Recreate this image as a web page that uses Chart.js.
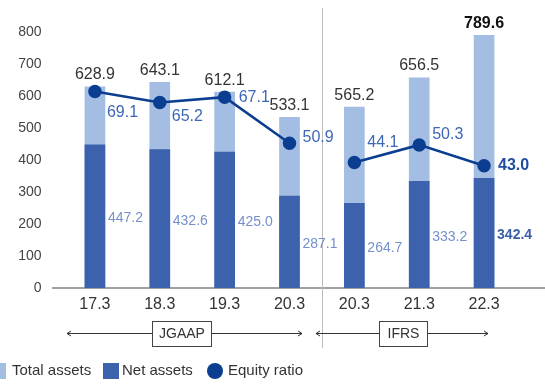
<!DOCTYPE html>
<html>
<head>
<meta charset="utf-8">
<script src="https://cdn.jsdelivr.net/npm/chart.js@4"></script>
<style>
  html, body { margin: 0; padding: 0; background: #fff; }
  #wrap { width: 545px; height: 385px; }
</style>
</head>
<body>
<div id="wrap"><canvas id="assetsChart" width="545" height="385"></canvas></div>
<script>
// Fiscal periods (JGAAP first, then IFRS restated from 20.3)
const periods = ['17.3', '18.3', '19.3', '20.3', '20.3', '21.3', '22.3'];
const totalAssets = [628.9, 643.1, 612.1, 533.1, 565.2, 656.5, 789.6];
const netAssets = [447.2, 432.6, 425.0, 287.1, 264.7, 333.2, 342.4];
const equityRatio = [69.1, 65.2, 67.1, 50.9, 44.1, 50.3, 43.0];
const standardNames = ['JGAAP', 'IFRS'];
const legendNames = ['Total assets', 'Net assets', 'Equity ratio'];

const FONT = '"Liberation Sans", Arial, Helvetica, sans-serif';
const LIGHT = '#a4bde2';
const MID = '#3c62ae';
const DARK = '#0b3d91';
const lastIdx = periods.length - 1;

// label offsets for the equity ratio values, relative to each point
const ratioOffsets = [[12, 21], [12, 14], [14, 0], [13, -6], [13, -20], [13, -10], [14, 0]];
// arrow extents and label box extents for each accounting standard
const arrowSpans = [[67, 302], [316, 488]];
const boxSpans = [[152, 211], [379, 427]];

const extras = {
    id: 'extras',
    beforeDatasetsDraw(chart) {
        const ctx = chart.ctx;
        const y0 = chart.scales.y.getPixelForValue(0);
        ctx.save();
        // baseline
        ctx.strokeStyle = '#808080';
        ctx.lineWidth = 1.3;
        ctx.beginPath();
        ctx.moveTo(52, y0);
        ctx.lineTo(545, y0);
        ctx.stroke();
        // divider between JGAAP and IFRS
        const x = chart.scales.x;
        const sepX = Math.round((x.getPixelForValue(3) + x.getPixelForValue(4)) / 2) + 0.5;
        ctx.strokeStyle = '#bdbdbd';
        ctx.lineWidth = 1;
        ctx.beginPath();
        ctx.moveTo(sepX, 8);
        ctx.lineTo(sepX, 348);
        ctx.stroke();
        ctx.restore();
    },
    afterDatasetsDraw(chart) {
        const ctx = chart.ctx;
        const xs = chart.scales.x, ys = chart.scales.y, y2 = chart.scales.y2;
        ctx.save();
        ctx.textBaseline = 'middle';
        periods.forEach((p, i) => {
            const cx = xs.getPixelForValue(i);
            const bold = i === lastIdx ? 'bold ' : '';
            // total assets, above bar
            ctx.textAlign = 'center';
            ctx.font = bold + '16px ' + FONT;
            ctx.fillStyle = i === lastIdx ? '#111' : '#333';
            ctx.fillText(totalAssets[i].toFixed(1), cx, ys.getPixelForValue(totalAssets[i]) - 12);
            // net assets, right of bar at mid height
            ctx.textAlign = 'left';
            ctx.font = bold + '14px ' + FONT;
            ctx.fillStyle = i === lastIdx ? '#3c5fa8' : '#7590cc';
            const midY = (ys.getPixelForValue(netAssets[i]) + ys.getPixelForValue(0)) / 2;
            ctx.fillText(netAssets[i].toFixed(1), cx + 13, midY + 2);
            // equity ratio
            ctx.font = bold + '16px ' + FONT;
            ctx.fillStyle = i === lastIdx ? '#1f4c9e' : '#3d67b6';
            const py = y2.getPixelForValue(equityRatio[i]);
            ctx.fillText(equityRatio[i].toFixed(1), cx + ratioOffsets[i][0], py + ratioOffsets[i][1]);
        });
        ctx.restore();
    },
    afterDraw(chart) {
        const ctx = chart.ctx;
        ctx.save();
        // accounting standard brackets
        const arrowY = 333.5;
        standardNames.forEach((name, k) => {
            const [l, r] = arrowSpans[k];
            const [bl, br] = boxSpans[k];
            ctx.strokeStyle = '#333';
            ctx.lineWidth = 1;
            ctx.beginPath();
            ctx.moveTo(l, arrowY);
            ctx.lineTo(r, arrowY);
            ctx.moveTo(l + 4, arrowY - 2.5);
            ctx.lineTo(l, arrowY);
            ctx.lineTo(l + 4, arrowY + 2.5);
            ctx.moveTo(r - 4, arrowY - 2.5);
            ctx.lineTo(r, arrowY);
            ctx.lineTo(r - 4, arrowY + 2.5);
            ctx.stroke();
            ctx.fillStyle = '#fff';
            ctx.fillRect(bl, 321, br - bl, 25);
            ctx.strokeStyle = '#444';
            ctx.strokeRect(bl + 0.5, 321.5, br - bl, 25);
            ctx.font = '14px ' + FONT;
            ctx.fillStyle = '#333';
            ctx.textAlign = 'center';
            ctx.textBaseline = 'middle';
            ctx.fillText(name, (bl + br) / 2 + 0.5, 334);
        });
        // legend
        const ly = 371;
        ctx.font = '15px ' + FONT;
        ctx.textAlign = 'left';
        ctx.textBaseline = 'middle';
        ctx.fillStyle = LIGHT;
        ctx.fillRect(-10, ly - 8, 16, 16);
        ctx.fillStyle = '#333';
        ctx.fillText(legendNames[0], 12, ly);
        ctx.fillStyle = MID;
        ctx.fillRect(103, ly - 8, 16, 16);
        ctx.fillStyle = '#333';
        ctx.fillText(legendNames[1], 122, ly);
        ctx.fillStyle = DARK;
        ctx.beginPath();
        ctx.arc(215, ly, 8, 0, Math.PI * 2);
        ctx.fill();
        ctx.fillStyle = '#333';
        ctx.fillText(legendNames[2], 228, ly);
        ctx.restore();
    }
};

new Chart(document.getElementById('assetsChart'), {
    type: 'bar',
    data: {
        labels: periods,
        datasets: [
            {
                type: 'line',
                label: legendNames[2],
                data: equityRatio,
                yAxisID: 'y2',
                borderColor: DARK,
                backgroundColor: DARK,
                borderWidth: 2.5,
                pointRadius: 5.5,
                pointHoverRadius: 5.5,
                tension: 0,
                order: 0,
                // no line across the change of accounting standard
                segment: {
                    borderColor: c => c.p0DataIndex === 3 ? 'rgba(0,0,0,0)' : DARK
                }
            },
            {
                label: legendNames[1],
                data: netAssets,
                backgroundColor: MID,
                barThickness: 20,
                grouped: false,
                order: 1
            },
            {
                label: legendNames[0],
                data: totalAssets,
                backgroundColor: LIGHT,
                barThickness: 20,
                grouped: false,
                order: 2
            }
        ]
    },
    options: {
        responsive: false,
        devicePixelRatio: 1,
        animation: false,
        layout: { padding: { top: 32, right: 28.5, left: 0, bottom: 0 } },
        plugins: {
            legend: { display: false },
            tooltip: { enabled: false }
        },
        scales: {
            x: {
                grid: { display: false, drawTicks: false },
                border: { display: false },
                ticks: { color: '#333', font: { family: FONT, size: 16 }, padding: 7 },
                afterFit: s => { s.height = 97; }
            },
            y: {
                min: 0,
                max: 800,
                grid: { display: false, drawTicks: false },
                border: { display: false },
                ticks: { stepSize: 100, color: '#444', font: { family: FONT, size: 14 }, padding: 21 },
                afterFit: s => { s.width = 62.5; }
            },
            y2: {
                display: false,
                min: 0,
                max: 90
            }
        }
    },
    plugins: [extras]
});
</script>
</body>
</html>
